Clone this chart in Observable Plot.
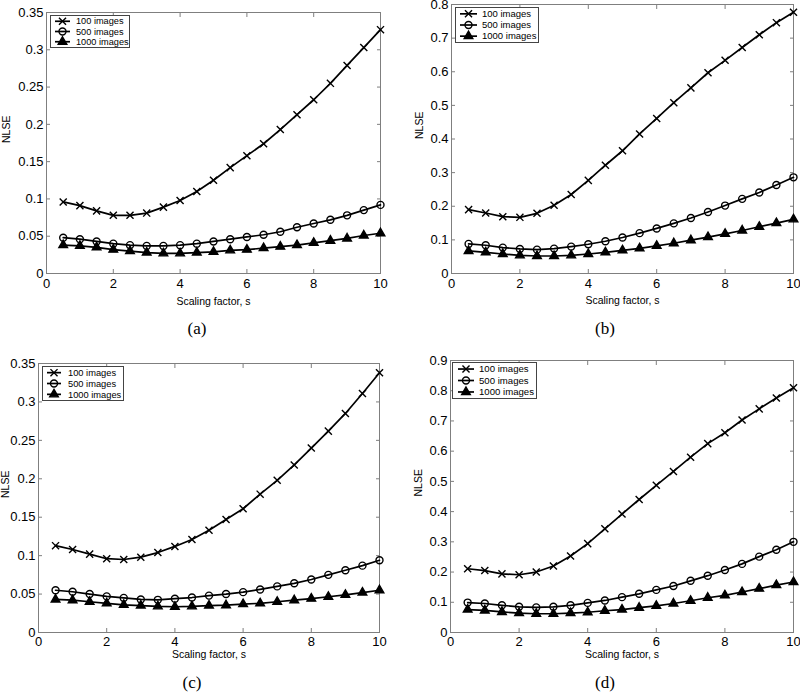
<!DOCTYPE html>
<html>
<head>
<meta charset="utf-8">
<script src="https://cdn.jsdelivr.net/npm/d3@7"></script>
<script src="https://cdn.jsdelivr.net/npm/@observablehq/plot@0.6"></script>
<style>
  body { margin: 0; background: #fff; }
  #chart { position: relative; width: 800px; height: 692px; overflow: hidden; background: #fff;
           font-family: "Liberation Sans", Arial, Helvetica, sans-serif; }
  .panel { position: absolute; width: 400px; height: 320px; }
  .panel svg { display: block; background: transparent; }
  .legend { position: absolute; }
  .caption { position: absolute; font-family: "Liberation Serif", "DejaVu Serif", serif; font-size: 17px;
             transform: translate(-50%, -50%); color: #000; white-space: nowrap; }
</style>
</head>
<body>
<div id="chart"></div>
<script>
// ---------------- data ----------------
const xs = [0.5, 1, 1.5, 2, 2.5, 3, 3.5, 4, 4.5, 5, 5.5, 6, 6.5, 7, 7.5, 8, 8.5, 9, 9.5, 10];
const seriesNames = ["100 images", "500 images", "1000 images"];

const a100  = [0.096, 0.091, 0.084, 0.078, 0.078, 0.081, 0.089, 0.098, 0.110, 0.125, 0.142, 0.158, 0.174, 0.193, 0.213, 0.233, 0.255, 0.279, 0.303, 0.327];
const a500  = [0.048, 0.046, 0.043, 0.040, 0.038, 0.037, 0.037, 0.038, 0.040, 0.043, 0.046, 0.049, 0.052, 0.056, 0.062, 0.067, 0.072, 0.078, 0.085, 0.092];
const a1000 = [0.038, 0.037, 0.035, 0.032, 0.030, 0.028, 0.027, 0.027, 0.028, 0.029, 0.031, 0.032, 0.034, 0.036, 0.038, 0.041, 0.044, 0.047, 0.051, 0.054];

const b100  = [0.190, 0.180, 0.169, 0.167, 0.179, 0.203, 0.235, 0.277, 0.322, 0.365, 0.415, 0.461, 0.508, 0.552, 0.597, 0.634, 0.672, 0.710, 0.746, 0.777];
const b500  = [0.088, 0.084, 0.077, 0.073, 0.071, 0.074, 0.080, 0.087, 0.096, 0.107, 0.120, 0.134, 0.149, 0.165, 0.183, 0.202, 0.222, 0.241, 0.263, 0.286];
const b1000 = [0.067, 0.063, 0.058, 0.054, 0.052, 0.052, 0.054, 0.058, 0.063, 0.069, 0.075, 0.082, 0.090, 0.099, 0.108, 0.118, 0.128, 0.139, 0.150, 0.161];

const c100  = [0.113, 0.108, 0.102, 0.096, 0.095, 0.098, 0.104, 0.112, 0.121, 0.133, 0.147, 0.161, 0.180, 0.198, 0.218, 0.240, 0.262, 0.285, 0.311, 0.338];
const c500  = [0.055, 0.053, 0.050, 0.047, 0.045, 0.043, 0.0425, 0.044, 0.0455, 0.048, 0.050, 0.0525, 0.056, 0.060, 0.064, 0.069, 0.075, 0.081, 0.087, 0.094];
const c1000 = [0.043, 0.042, 0.040, 0.038, 0.036, 0.035, 0.034, 0.0335, 0.034, 0.035, 0.0355, 0.037, 0.038, 0.040, 0.042, 0.044, 0.0465, 0.049, 0.052, 0.055];

const d100  = [0.211, 0.205, 0.194, 0.191, 0.200, 0.220, 0.253, 0.294, 0.343, 0.392, 0.440, 0.487, 0.533, 0.580, 0.625, 0.661, 0.703, 0.740, 0.776, 0.810];
const d500  = [0.099, 0.096, 0.090, 0.085, 0.083, 0.085, 0.090, 0.098, 0.106, 0.117, 0.128, 0.141, 0.154, 0.171, 0.188, 0.207, 0.227, 0.251, 0.274, 0.300];
const d1000 = [0.076, 0.073, 0.068, 0.064, 0.062, 0.062, 0.064, 0.067, 0.072, 0.076, 0.082, 0.088, 0.096, 0.105, 0.115, 0.123, 0.134, 0.145, 0.157, 0.167];

const xTicks  = [0, 2, 4, 6, 8, 10];
const yTicksA = [0, 0.05, 0.1, 0.15, 0.2, 0.25, 0.3, 0.35];
const yTicksB = [0, 0.1, 0.2, 0.3, 0.4, 0.5, 0.6, 0.7, 0.8];
const yTicksC = [0, 0.05, 0.1, 0.15, 0.2, 0.25, 0.3, 0.35];
const yTicksD = [0, 0.1, 0.2, 0.3, 0.4, 0.5, 0.6, 0.7, 0.8, 0.9];

const captions = ["(a)", "(b)", "(c)", "(d)"];
const xTitle = "Scaling factor, s";
const yTitle = "NLSE";

// ---------------- layout / style ----------------
const panelSeries = [[a100, a500, a1000], [b100, b500, b1000], [c100, c500, c1000], [d100, d500, d1000]];
const panelYTicks = [yTicksA, yTicksB, yTicksC, yTicksD];

const layouts = [
  { left: 0,   top: 0,   mL: 46, mR: 20, mT: 12, mB: 47, xt: 28, yt: 40, tp: 5, leg: [50, 15, 80, 33, 5, 20, 26, 9.2],   cap: [197, 329] },
  { left: 400, top: 0,   mL: 51, mR: 7,  mT: 4,  mB: 47, xt: 27, yt: 32, tp: 5, leg: [455, 7, 84, 36, 5, 22, 27, 9.5],   cap: [605, 329] },
  { left: 0,   top: 340, mL: 38, mR: 21, mT: 23, mB: 28, xt: 22, yt: 33, tp: 4.5, leg: [42, 366, 82, 35, 5, 19, 26, 9.3],  cap: [192, 683] },
  { left: 400, top: 340, mL: 50, mR: 7,  mT: 20, mB: 28, xt: 22, yt: 32, tp: 4.5, leg: [452, 362, 85, 37, 6, 22, 27, 9.6], cap: [605, 683] }
];

const markerStyles = [
  { symbol: "times",    r: 3.3, fill: "none",  d3sym: d3.symbolTimes },
  { symbol: "circle",   r: 3.5, fill: "none",  d3sym: d3.symbolCircle },
  { symbol: "triangle", r: 3.2, fill: "black", d3sym: d3.symbolTriangle }
];

const frameColor = "#7f7f7f";
const tickFont = 13;
const chart = document.getElementById("chart");
const fmt = d => String(d);

function buildPanel(i) {
  const L = layouts[i];
  const rows = [];
  panelSeries[i].forEach((vals, k) => vals.forEach((v, j) => rows.push({ x: xs[j], y: v, series: seriesNames[k] })));
  const yTicks = panelYTicks[i];
  const yMax = yTicks[yTicks.length - 1];

  const dotMarks = markerStyles.map((s, k) =>
    Plot.dot(rows.filter(r => r.series === seriesNames[k]), {
      x: "x", y: "y", symbol: s.symbol, r: s.r, stroke: "black", fill: s.fill, strokeWidth: 1.4
    })
  );

  const svg = Plot.plot({
    width: 400, height: 320,
    marginLeft: L.mL, marginRight: L.mR, marginTop: L.mT, marginBottom: L.mB,
    style: { fontFamily: '"Liberation Sans", Arial, Helvetica, sans-serif', fontSize: tickFont + "px", color: "black", background: "transparent", overflow: "visible" },
    x: { domain: [0, 10], label: null },
    y: { domain: [0, yMax], label: null },
    marks: [
      Plot.frame({ stroke: frameColor }),
      // inward ticks on all four sides
      Plot.axisX(xTicks, { anchor: "bottom", tickSize: 4, dy: -4, stroke: frameColor, tickFormat: () => "", label: null }),
      Plot.axisX(xTicks, { anchor: "top", tickSize: 4, dy: 4, stroke: frameColor, tickFormat: () => "", label: null }),
      Plot.axisY(yTicks, { anchor: "left", tickSize: 4, dx: 4, stroke: frameColor, tickFormat: () => "", label: null }),
      Plot.axisY(yTicks, { anchor: "right", tickSize: 4, dx: -4, stroke: frameColor, tickFormat: () => "", label: null }),
      // tick labels
      Plot.axisX(xTicks, { anchor: "bottom", tickSize: 0, tickPadding: L.tp, tickFormat: fmt, fontSize: tickFont, label: null }),
      Plot.axisY(yTicks, { anchor: "left", tickSize: 0, tickPadding: 3, tickFormat: fmt, fontSize: tickFont, label: null }),
      // axis titles
      Plot.text([xTitle], { frameAnchor: "bottom", dy: L.xt, text: d => d, fontSize: 10.5, lineAnchor: "middle" }),
      Plot.text([yTitle], { frameAnchor: "left", dx: -L.yt, rotate: -90, text: d => d, fontSize: 10.5, lineAnchor: "middle" }),
      // data
      Plot.line(rows, { x: "x", y: "y", z: "series", stroke: "black", strokeWidth: 1.7 }),
      ...dotMarks
    ]
  });

  const div = document.createElement("div");
  div.className = "panel";
  div.style.left = L.left + "px";
  div.style.top = L.top + "px";
  div.appendChild(svg);
  chart.appendChild(div);

  // legend
  const [lx, ly, lw, lh, s0, s1, tx, fs] = L.leg;
  const leg = d3.create("svg")
    .attr("class", "legend")
    .attr("width", lw).attr("height", lh)
    .style("left", lx + "px").style("top", ly + "px");
  leg.append("rect").attr("x", 0.5).attr("y", 0.5).attr("width", lw - 1).attr("height", lh - 1)
    .attr("fill", "white").attr("stroke", "#444").attr("stroke-width", 1);
  const fracs = [0.19, 0.5, 0.81];
  seriesNames.forEach((name, k) => {
    const cy = lh * fracs[k];
    const s = markerStyles[k];
    leg.append("line").attr("x1", s0).attr("x2", s1).attr("y1", cy).attr("y2", cy)
      .attr("stroke", "black").attr("stroke-width", 1.7);
    leg.append("path")
      .attr("d", d3.symbol(s.d3sym, Math.PI * s.r * s.r)())
      .attr("transform", `translate(${(s0 + s1) / 2},${cy})`)
      .attr("fill", s.fill).attr("stroke", "black").attr("stroke-width", 1.4);
    leg.append("text").attr("x", tx).attr("y", cy).attr("dy", "0.35em")
      .attr("font-size", fs).attr("font-family", '"Liberation Sans", Arial, sans-serif')
      .text(name);
  });
  chart.appendChild(leg.node());

  // caption
  const cap = document.createElement("div");
  cap.className = "caption";
  cap.style.left = L.cap[0] + "px";
  cap.style.top = L.cap[1] + "px";
  cap.textContent = captions[i];
  chart.appendChild(cap);
}

for (let i = 0; i < 4; i++) buildPanel(i);
</script>
</body>
</html>
